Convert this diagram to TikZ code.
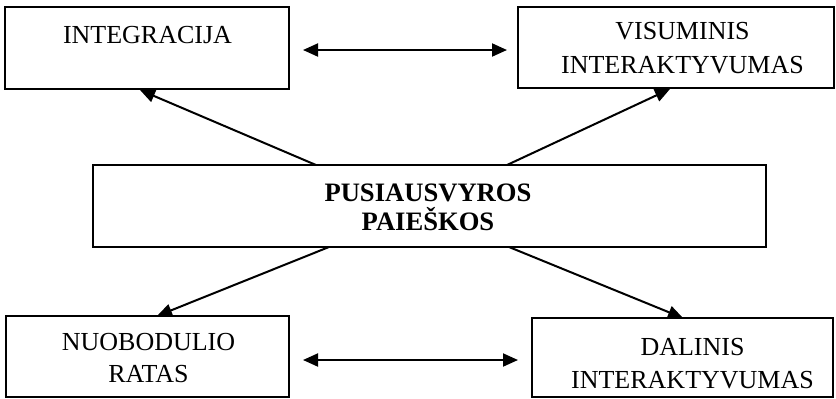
\documentclass[tikz,border=0pt]{standalone}
\usepackage{fontspec}
\setmainfont{Liberation Serif}
\usetikzlibrary{arrows.meta}
\begin{document}
\begin{tikzpicture}[x=0.5pt,y=-0.5pt,
  box/.style={draw=black,line width=1pt,inner sep=0pt,minimum width=#1},
  lbl/.style={anchor=base,inner sep=0pt,font=\fontsize{13}{15}\selectfont},
  blbl/.style={anchor=base,inner sep=0pt,font=\fontsize{13.3}{15}\selectfont\bfseries},
  arr/.style={line width=1pt,-{Triangle[length=7.5pt,width=6.5pt]}},
  darr/.style={line width=1pt,{Triangle[length=7.5pt,width=6.5pt]}-{Triangle[length=7.5pt,width=6.5pt]}}]
\useasboundingbox (0,0) rectangle (836,398);
\fill[white] (0,0) rectangle (836,398);
% boxes
\node[box=142pt,minimum height=41pt] (int) at (147,48) {};
\node[box=158pt,minimum height=40.5pt] (vis) at (676,47.5) {};
\node[box=336.5pt,minimum height=41pt] (ctr) at (429.5,206) {};
\node[box=141.5pt,minimum height=40.5pt] (nuo) at (147.5,356.5) {};
\node[box=150.5pt,minimum height=39.5pt] (dal) at (682.5,357.5) {};
% texts
\node[lbl] (intt) at (147.5,43) {INTEGRACIJA};
\node[lbl] (vist1) at (682.5,39) {VISUMINIS};
\node[lbl] (vist2) at (682.5,73) {INTERAKTYVUMAS};
\node[blbl] (ctrt1) at (428,201) {PUSIAUSVYROS};
\node[blbl] (ctrt2) at (428,230) {PAIEŠKOS};
\node[lbl] (nuot1) at (148.5,350) {NUOBODULIO};
\node[lbl] (nuot2) at (148.5,382) {RATAS};
\node[lbl] (dalt1) at (692.5,355) {DALINIS};
\node[lbl] (dalt2) at (692.5,388) {INTERAKTYVUMAS};
% connector end points
\coordinate (c1) at (316,165);
\coordinate (c2) at (507,165);
\coordinate (c3) at (329,247);
\coordinate (c4) at (509,247);
\coordinate (i1) at (140,90);
\coordinate (v1) at (670,89);
\coordinate (n1) at (157,316);
\coordinate (d1) at (683,318);
\coordinate (tl) at (303,50);
\coordinate (tr) at (507,50);
\coordinate (bl) at (303,360);
\coordinate (br) at (518,360);
% connectors
\draw[arr] (c1) -- (i1);
\draw[arr] (c2) -- (v1);
\draw[arr] (c3) -- (n1);
\draw[arr] (c4) -- (d1);
\draw[darr] (tl) -- (tr);
\draw[darr] (bl) -- (br);
\end{tikzpicture}
\end{document}
